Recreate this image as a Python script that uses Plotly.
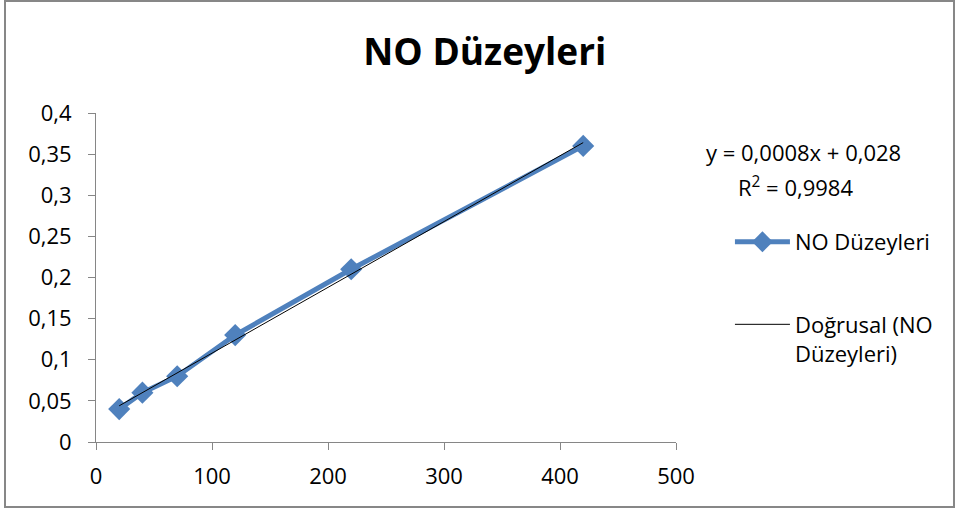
import numpy as np
import plotly.graph_objects as go

x_vals = [20, 40, 70, 120, 220, 420]
y_vals = [0.04, 0.06, 0.08, 0.13, 0.21, 0.36]
series_name = "NO Düzeyleri"
trend_name = "Doğrusal (NO<br>Düzeyleri)"
y_ticks = [0, 0.05, 0.1, 0.15, 0.2, 0.25, 0.3, 0.35, 0.4]
y_ticktext = ["0", "0,05", "0,1", "0,15", "0,2", "0,25", "0,3", "0,35", "0,4"]
x_ticks = [0, 100, 200, 300, 400, 500]

slope, intercept = np.polyfit(x_vals, y_vals, 1)
pred = slope * np.array(x_vals) + intercept
ss_res = np.sum((np.array(y_vals) - pred) ** 2)
ss_tot = np.sum((np.array(y_vals) - np.mean(y_vals)) ** 2)
r2 = 1 - ss_res / ss_tot
trend_x = [min(x_vals), max(x_vals)]
trend_y = [slope * v + intercept for v in trend_x]

font_family = "Open Sans, Liberation Sans, sans-serif"
blue = "#4F81BD"
axis_gray = "#868686"
fs = 22

fig = go.Figure()
fig.add_trace(go.Scatter(
    x=x_vals, y=y_vals, mode="lines+markers", name=series_name,
    line=dict(color=blue, width=5),
    marker=dict(symbol="diamond", size=17, color=blue),
    legend="legend",
))
fig.add_trace(go.Scatter(
    x=trend_x, y=trend_y, mode="lines", name=trend_name,
    line=dict(color="black", width=1),
    legend="legend2",
))

eq_line1 = "y = {:.4f}x + {:.3f}".format(slope, intercept).replace(".", ",")
eq_line2 = "R<sup>2</sup> = {:.4f}".format(r2).replace(".", ",")

fig.update_layout(
    width=960, height=510,
    margin=dict(l=96, r=284, t=113, b=68),
    paper_bgcolor="white", plot_bgcolor="white",
    font=dict(family=font_family, size=fs, color="#000000"),
    title=dict(text="<b>NO Düzeyleri</b>", x=0.505, xanchor="center", y=0.898, yanchor="middle",
               font=dict(size=37, family=font_family, color="black")),
    showlegend=True,
    legend=dict(x=1.093, y=0.608, xanchor="left", yanchor="middle", valign="top",
                font=dict(size=fs), bgcolor="rgba(0,0,0,0)", itemwidth=55),
    legend2=dict(x=1.093, y=0.313, xanchor="left", yanchor="middle", valign="top",
                 font=dict(size=fs), bgcolor="rgba(0,0,0,0)", itemwidth=55),
    xaxis=dict(range=[0, 500], tickvals=x_ticks, showgrid=False, zeroline=False,
               showline=True, linecolor=axis_gray, linewidth=1,
               ticks="outside", ticklen=7, tickcolor=axis_gray,
               ticklabelstandoff=8,
               tickfont=dict(size=fs), fixedrange=True),
    yaxis=dict(range=[0, 0.4], tickvals=y_ticks, ticktext=y_ticktext, showgrid=False,
               zeroline=False, showline=True, linecolor=axis_gray, linewidth=1,
               ticks="outside", ticklen=7, tickcolor=axis_gray,
               ticklabelstandoff=12,
               tickfont=dict(size=fs), fixedrange=True),
    annotations=[
        dict(text=eq_line1, xref="paper", yref="paper", x=1.219, y=0.881,
             xanchor="center", yanchor="middle", showarrow=False, font=dict(size=fs)),
        dict(text=eq_line2, xref="paper", yref="paper", x=1.206, y=0.778,
             xanchor="center", yanchor="middle", showarrow=False, font=dict(size=fs)),
    ],
    shapes=[dict(type="rect", xref="paper", yref="paper", x0=-0.1569, x1=1.4793,
                 y0=-0.1976, y1=1.3404, line=dict(color="#878787", width=2),
                 fillcolor="rgba(0,0,0,0)", layer="below")],
)

fig.write_html("out.html", config={"displayModeBar": False},
               post_script="document.body.style.margin='0';document.body.style.overflow='hidden';")
